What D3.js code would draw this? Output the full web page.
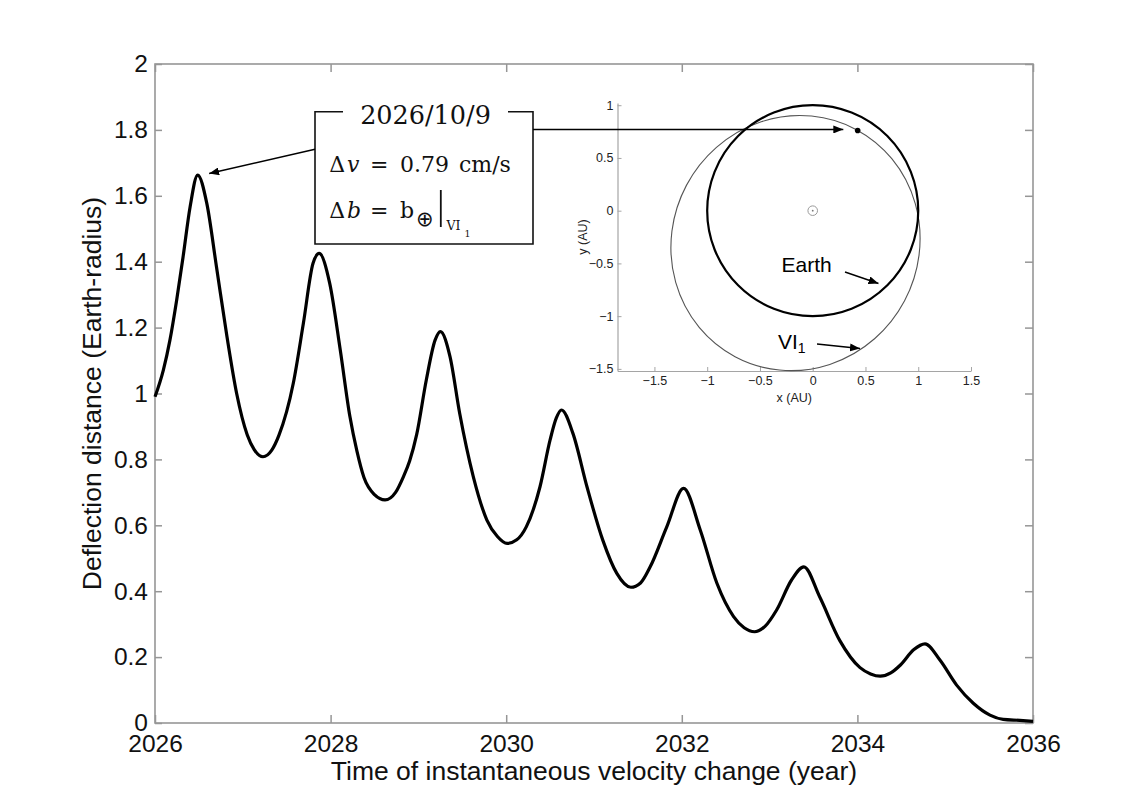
<!DOCTYPE html>
<html>
<head>
<meta charset="utf-8">
<script src="https://cdn.jsdelivr.net/npm/d3@7"></script>
<style>
  html, body { margin: 0; padding: 0; background: #fff; }
  svg { display: block; }
  .tick text { font-family: "Liberation Sans", Arial, sans-serif; }
</style>
</head>
<body>
<svg id="chart" width="1134" height="805"></svg>
<script>
// ---- main curve: deflection distance vs. time of velocity change ----
const years = [
  2026.00, 2026.095, 2026.17, 2026.247, 2026.32, 2026.40, 2026.486, 2026.59, 2026.70, 2026.82,
  2026.93, 2027.05, 2027.13, 2027.23, 2027.33, 2027.41, 2027.575, 2027.69, 2027.80, 2027.87,
  2027.99, 2028.11, 2028.22, 2028.30, 2028.38, 2028.50, 2028.62, 2028.74, 2028.83, 2028.90,
  2028.98, 2029.09, 2029.19, 2029.25, 2029.36, 2029.47, 2029.625, 2029.78, 2029.90, 2030.01,
  2030.12, 2030.23, 2030.385, 2030.50, 2030.57, 2030.63, 2030.76, 2030.92, 2031.10, 2031.26,
  2031.42, 2031.53, 2031.64, 2031.83, 2032.02, 2032.21, 2032.40, 2032.59, 2032.71, 2032.83,
  2032.95, 2033.08, 2033.25, 2033.39, 2033.57, 2033.80, 2034.03, 2034.15, 2034.26, 2034.38,
  2034.49, 2034.64, 2034.77, 2034.94, 2035.13, 2035.32, 2035.51, 2035.66, 2035.85, 2036.00
];
const deflection = [
  0.990, 1.071, 1.162, 1.284, 1.415, 1.567, 1.663, 1.577, 1.385, 1.172,
  1.000, 0.875, 0.830, 0.808, 0.828, 0.872, 1.031, 1.213, 1.395, 1.425,
  1.334, 1.132, 0.930, 0.825, 0.745, 0.693, 0.677, 0.700, 0.748, 0.795,
  0.875, 1.041, 1.162, 1.188, 1.112, 0.940, 0.748, 0.616, 0.566, 0.545,
  0.556, 0.596, 0.717, 0.859, 0.925, 0.950, 0.879, 0.717, 0.555, 0.454,
  0.412, 0.425, 0.474, 0.596, 0.712, 0.586, 0.424, 0.323, 0.289, 0.277,
  0.294, 0.343, 0.434, 0.474, 0.383, 0.250, 0.168, 0.149, 0.142, 0.152,
  0.176, 0.222, 0.240, 0.191, 0.115, 0.060, 0.024, 0.011, 0.008, 0.005
];
const xTicks = [2026, 2028, 2030, 2032, 2034, 2036];
const xTickLabels = ["2026", "2028", "2030", "2032", "2034", "2036"];
const yTicks = [0, 0.2, 0.4, 0.6, 0.8, 1, 1.2, 1.4, 1.6, 1.8, 2];
const yTickLabels = ["0", "0.2", "0.4", "0.6", "0.8", "1", "1.2", "1.4", "1.6", "1.8", "2"];

// annotated peak
const peakYear = 2026.486;
const peakValue = 1.663;
const annotTitle = "2026/10/9";

// ---- inset: orbits in the ecliptic plane (AU) ----
const insetTicksX = [-1.5, -1, -0.5, 0, 0.5, 1, 1.5];
const insetTicksY = [-1.5, -1, -0.5, 0, 0.5, 1];
const insetTickLabelsX = ["\u22121.5", "\u22121", "\u22120.5", "0", "0.5", "1", "1.5"];
const insetTickLabelsY = ["\u22121.5", "\u22121", "\u22120.5", "0", "0.5", "1"];
const earthOrbitRadius = 1.0;                 // AU
const vi1Orbit = { a: 1.22, e: 0.285, perihelionDeg: 62 };
const vi1Position = [0.426, 0.76];            // AU, point where the change is applied
const arrowTipAU = [0.29, 0.77];

const svg = d3.select("#chart");
const FONT = '"Liberation Sans", Arial, sans-serif';
const SERIF = '"DejaVu Serif", "Liberation Serif", serif';

// arrowhead marker
const defs = svg.append("defs");
defs.append("marker")
  .attr("id", "head")
  .attr("viewBox", "0 0 10 8")
  .attr("refX", 10).attr("refY", 4)
  .attr("markerWidth", 10).attr("markerHeight", 8)
  .attr("markerUnits", "userSpaceOnUse")
  .attr("orient", "auto")
  .append("path").attr("d", "M0,0 L10,4 L0,8 Z").attr("fill", "#000");

// ---------------- main axes ----------------
const M = { left: 155, right: 1033, top: 64, bottom: 723 };
const x = d3.scaleLinear().domain([2026, 2036]).range([M.left, M.right]);
const y = d3.scaleLinear().domain([0, 2]).range([M.bottom, M.top]);

const axisColor = "#969696";

function styleAxis(g, fontSize) {
  g.select(".domain").remove();
  g.selectAll(".tick line").attr("stroke", axisColor).attr("stroke-width", 1.5);
  g.selectAll(".tick text").attr("fill", "#111").style("font-size", fontSize + "px");
}

svg.append("g")
  .attr("transform", `translate(0,${M.bottom})`)
  .call(d3.axisBottom(x).tickValues(xTicks).tickFormat((d, i) => xTickLabels[i])
    .tickSize(-8).tickPadding(12))
  .call(g => styleAxis(g, 24.5));

svg.append("g")
  .attr("transform", `translate(${M.left},0)`)
  .call(d3.axisLeft(y).tickValues(yTicks).tickFormat((d, i) => yTickLabels[i])
    .tickSize(-7).tickPadding(7))
  .call(g => styleAxis(g, 24.5));

svg.append("g")
  .attr("transform", `translate(0,${M.top})`)
  .call(d3.axisTop(x).tickValues(xTicks).tickFormat("").tickSize(-8))
  .call(g => styleAxis(g, 24.5));

svg.append("g")
  .attr("transform", `translate(${M.right},0)`)
  .call(d3.axisRight(y).tickValues(yTicks).tickFormat("").tickSize(-8))
  .call(g => styleAxis(g, 24.5));

// box
svg.append("rect")
  .attr("x", M.left).attr("y", M.top)
  .attr("width", M.right - M.left).attr("height", M.bottom - M.top)
  .attr("fill", "none").attr("stroke", axisColor).attr("stroke-width", 1.6);

// axis titles
svg.append("text")
  .attr("x", (M.left + M.right) / 2).attr("y", 780)
  .attr("text-anchor", "middle")
  .style("font-family", FONT).style("font-size", "26.5px").attr("fill", "#111")
  .text("Time of instantaneous velocity change (year)");

svg.append("text")
  .attr("transform", `translate(101,${(M.top + M.bottom) / 2}) rotate(-90)`)
  .attr("text-anchor", "middle")
  .style("font-family", FONT).style("font-size", "26.5px").attr("fill", "#111")
  .text("Deflection distance (Earth-radius)");

// curve
const pts = years.map((yr, i) => [yr, deflection[i]]);
svg.append("path")
  .datum(pts)
  .attr("fill", "none")
  .attr("stroke", "#000")
  .attr("stroke-width", 3.2)
  .attr("stroke-linejoin", "round")
  .attr("d", d3.line().x(d => x(d[0])).y(d => y(d[1])).curve(d3.curveMonotoneX));

// ---------------- inset ----------------
const ix = d3.scaleLinear().domain([-1.85, 1.5]).range([617.5, 971]);
const iy = d3.scaleLinear().domain([-1.52, 1.02]).range([371, 103.1]);
const insetAxisColor = "#a5a5a5";

function styleInset(g) {
  g.select(".domain").attr("stroke", insetAxisColor).attr("stroke-width", 1.2);
  g.selectAll(".tick line").attr("stroke", insetAxisColor).attr("stroke-width", 1);
  g.selectAll(".tick text").attr("fill", "#222").style("font-size", "12.5px");
}

svg.append("g")
  .attr("transform", `translate(0,${iy(-1.52)})`)
  .call(d3.axisBottom(ix).tickValues(insetTicksX).tickFormat((d, i) => insetTickLabelsX[i])
    .tickSizeInner(-4).tickSizeOuter(0).tickPadding(5))
  .call(styleInset);

svg.append("g")
  .attr("transform", `translate(${ix(-1.85)},0)`)
  .call(d3.axisLeft(iy).tickValues(insetTicksY).tickFormat((d, i) => insetTickLabelsY[i])
    .tickSizeInner(-4).tickSizeOuter(0).tickPadding(4))
  .call(styleInset);

svg.append("text")
  .attr("x", ix(-0.175)).attr("y", 401.5)
  .attr("text-anchor", "middle")
  .style("font-family", FONT).style("font-size", "12.5px").attr("fill", "#222")
  .text("x (AU)");

svg.append("text")
  .attr("transform", `translate(587,${iy(-0.25)}) rotate(-90)`)
  .attr("text-anchor", "middle")
  .style("font-family", FONT).style("font-size", "12.5px").attr("fill", "#222")
  .text("y (AU)");

const pxPerAU = ix(1) - ix(0);

// VI1 orbit: ellipse with the Sun at one focus
const c = vi1Orbit.a * vi1Orbit.e;
const b = vi1Orbit.a * Math.sqrt(1 - vi1Orbit.e * vi1Orbit.e);
const w = vi1Orbit.perihelionDeg * Math.PI / 180;
const cx = ix(-c * Math.cos(w)), cy = iy(-c * Math.sin(w));
svg.append("ellipse")
  .attr("cx", cx).attr("cy", cy)
  .attr("rx", vi1Orbit.a * pxPerAU).attr("ry", b * pxPerAU)
  .attr("transform", `rotate(${-vi1Orbit.perihelionDeg},${cx},${cy})`)
  .attr("fill", "none").attr("stroke", "#555").attr("stroke-width", 1.1);

// Earth orbit
svg.append("circle")
  .attr("cx", ix(0)).attr("cy", iy(0))
  .attr("r", earthOrbitRadius * pxPerAU)
  .attr("fill", "none").attr("stroke", "#000").attr("stroke-width", 2.2);

// Sun symbol
svg.append("circle").attr("cx", ix(0)).attr("cy", iy(0)).attr("r", 4.8)
  .attr("fill", "none").attr("stroke", "#9a9a9a").attr("stroke-width", 1);
svg.append("circle").attr("cx", ix(0)).attr("cy", iy(0)).attr("r", 0.9)
  .attr("fill", "#777");

// VI1 position
svg.append("circle").attr("cx", ix(vi1Position[0])).attr("cy", iy(vi1Position[1])).attr("r", 2.8)
  .attr("fill", "#000");

// orbit labels
svg.append("text").attr("x", 781.5).attr("y", 271.5)
  .style("font-family", FONT).style("font-size", "21px").attr("fill", "#000")
  .text("Earth");
svg.append("line").attr("x1", 845).attr("y1", 272).attr("x2", 878.5).attr("y2", 283.5)
  .attr("stroke", "#000").attr("stroke-width", 1.4).attr("marker-end", "url(#head)");

const vi = svg.append("text").attr("x", 778).attr("y", 348.5)
  .style("font-family", FONT).style("font-size", "21px").attr("fill", "#000");
vi.append("tspan").text("VI");
vi.append("tspan").attr("dy", 4).style("font-size", "14px").text("1");
svg.append("line").attr("x1", 817).attr("y1", 344).attr("x2", 860).attr("y2", 348.5)
  .attr("stroke", "#000").attr("stroke-width", 1.4).attr("marker-end", "url(#head)");

// ---------------- annotation box ----------------
const box = { x0: 315, x1: 533, y0: 111.7, y1: 244, gap0: 343, gap1: 508 };
svg.append("path")
  .attr("d", `M${box.gap0},${box.y0} H${box.x0} V${box.y1} H${box.x1} V${box.y0} H${box.gap1}`)
  .attr("fill", "none").attr("stroke", "#111").attr("stroke-width", 1.6);

svg.append("text")
  .attr("x", (box.gap0 + box.gap1) / 2).attr("y", 123.5)
  .attr("text-anchor", "middle")
  .style("font-family", SERIF).style("font-size", "25.5px").attr("fill", "#111")
  .text(annotTitle);

function piece(txt, px, py, size, italic) {
  svg.append("text").attr("x", px).attr("y", py)
    .style("font-family", SERIF).style("font-size", size + "px")
    .style("font-style", italic ? "italic" : "normal")
    .attr("fill", "#111").text(txt);
}
// Δv = 0.79 cm/s
piece("\u0394", 329.3, 171.7, 22);
piece("v", 347, 171.7, 22, true);
piece("=", 370, 171.7, 22);
piece("0.79", 400, 171.7, 22);
piece("cm/s", 459, 171.7, 22);
// Δb = b⊕|VI1
piece("\u0394", 329.3, 218.3, 22);
piece("b", 347, 218.3, 22, true);
piece("=", 370, 218.3, 22);
piece("b", 400, 218.3, 22);
svg.append("text").attr("x", 416).attr("y", 225.5)
  .style("font-family", '"DejaVu Sans", sans-serif').style("font-size", "21px")
  .attr("fill", "#111").text("\u2295");
svg.append("line").attr("x1", 440.8).attr("x2", 440.8).attr("y1", 190).attr("y2", 227)
  .attr("stroke", "#111").attr("stroke-width", 1.8);
piece("VI", 446.5, 230, 12.5);
piece("1", 464.5, 236.5, 9.5);

// arrow to the annotated peak
svg.append("line")
  .attr("x1", box.x0).attr("y1", 149.3)
  .attr("x2", x(peakYear) + 11.5).attr("y2", y(peakValue) - 1.5)
  .attr("stroke", "#000").attr("stroke-width", 1.4).attr("marker-end", "url(#head)");

// arrow to the position in the inset
svg.append("line")
  .attr("x1", box.x1).attr("y1", iy(arrowTipAU[1]))
  .attr("x2", ix(arrowTipAU[0])).attr("y2", iy(arrowTipAU[1]))
  .attr("stroke", "#000").attr("stroke-width", 1.5).attr("marker-end", "url(#head)");
</script>
</body>
</html>
